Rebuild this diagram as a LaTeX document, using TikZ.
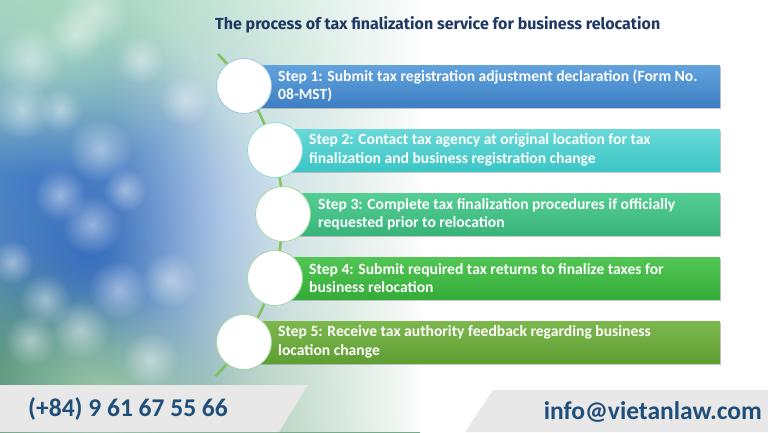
\documentclass[tikz,border=0pt]{standalone}
\usepackage{fontspec}
\setmainfont{Carlito}
\newfontfamily\titlefont{Fira Sans}
\usetikzlibrary{fadings,shadows}
\tikzfading[name=fuzzy, inner color=transparent!0, outer color=transparent!100]
\definecolor{navy}{HTML}{1F3864}
\definecolor{phoneblue}{HTML}{1F4E79}
\definecolor{linegreen}{HTML}{7FC25E}
\definecolor{bA1}{HTML}{62A3DE}\definecolor{bA2}{HTML}{3E7FC4}
\definecolor{bB1}{HTML}{6AD8D8}\definecolor{bB2}{HTML}{3CC6C6}
\definecolor{bC1}{HTML}{55CE94}\definecolor{bC2}{HTML}{38B47A}
\definecolor{bD1}{HTML}{52C655}\definecolor{bD2}{HTML}{34AC38}
\definecolor{bE1}{HTML}{7DB84E}\definecolor{bE2}{HTML}{5F9E33}
\definecolor{rA}{HTML}{9DC3E6}\definecolor{rB}{HTML}{8FDCDC}\definecolor{rC}{HTML}{A9D7A0}
\definecolor{footgray}{HTML}{E8E8E8}
\definecolor{bgtop}{HTML}{A9D6C4}\definecolor{bgmid}{HTML}{6F9CDA}\definecolor{bgbot}{HTML}{76AC8C}
\definecolor{blobA}{HTML}{A9C6EE}\definecolor{blobB}{HTML}{4F88D2}\definecolor{blobC}{HTML}{3A6FBE}
\definecolor{blobD}{HTML}{A8D8C0}\definecolor{blobE}{HTML}{5C9878}\definecolor{blobF}{HTML}{9CC9A8}
\tikzset{
  bar/.style={rectangle, inner sep=0pt, minimum height=42pt, anchor=west,
    drop shadow={shadow xshift=1pt, shadow yshift=-2pt, opacity=0.35, fill=black!60}},
  stepcircle/.style={circle, fill=white, minimum size=55pt, inner sep=0pt, line width=0.8pt},
  steptext/.style={anchor=west, align=left, text=white, font=\bfseries\fontsize{15.6}{18.5}\selectfont, inner sep=0pt},
  bokeh/.style={fill=white, path fading=fuzzy, opacity=0.45},
}
\begin{document}
\begin{tikzpicture}[x=1pt,y=-1pt]
\useasboundingbox (0,0) rectangle (768,432);
\fill[white] (0,0) rectangle (768,432);
% background picture
\shade[top color=bgtop, middle color=bgmid, bottom color=bgbot] (0,0) rectangle (420,432);
\fill[blobA, path fading=fuzzy] (200,210) circle (190);
\fill[blobB, path fading=fuzzy] (40,170) circle (190);
\fill[blobC, path fading=fuzzy] (90,250) circle (210);
\fill[blobD, path fading=fuzzy] (50,10) circle (170);
\fill[blobE, path fading=fuzzy] (0,400) circle (150);
\fill[blobF, path fading=fuzzy] (100,400) circle (110);
\foreach \bx/\by/\br in {30/60/34,75/35/28,95/12/34,22/110/30,100/150/32,92/225/30,60/195/26,118/290/30,45/300/26,125/190/22,185/100/26,80/330/30,30/340/26,170/280/28,12/262/22,140/60/24,60/110/22,150/360/28}
  \fill[bokeh] (\bx,\by) circle (\br);
\fill[white, path fading=west] (110,0) rectangle (430,432);
\fill[white] (420,0) rectangle (768,432);
% footer
\fill[footgray] (0,385) -- (308,385) -- (279,432) -- (0,432) -- cycle;
\fill[footgray] (493,390) -- (768,390) -- (768,432) -- (465,432) -- cycle;
\node[anchor=west, inner sep=0pt, text=phoneblue, font=\bfseries\fontsize{25.5}{28}\selectfont] (phone) at (28,409) {(+84) 9 61 67 55 66};
\node[anchor=east, inner sep=0pt, text=phoneblue, font=\bfseries\fontsize{25.5}{28}\selectfont] (mail) at (762,412) {info@vietanlaw.com};
% title
\node[anchor=west, inner sep=0pt, text=navy, font=\titlefont\bfseries\fontsize{16}{19}\selectfont] (title) at (215,25) {The process of tax finalization service for business relocation};
% connector arc
\coordinate (ltop) at (218,54);
\coordinate (lbot) at (216,377);
\draw[linegreen, line width=2.5pt] (ltop) arc[start angle=-44, end angle=45, radius=230];
% bars
\node[bar, top color=bA1, bottom color=bA2, minimum width=476pt] (b1) at (244,86) {};
\node[bar, top color=bB1, bottom color=bB2, minimum width=445pt] (b2) at (275,150) {};
\node[bar, top color=bC1, bottom color=bC2, minimum width=437pt] (b3) at (283,214) {};
\node[bar, top color=bD1, bottom color=bD2, minimum width=445pt] (b4) at (275,278) {};
\node[bar, top color=bE1, bottom color=bE2, minimum width=476pt] (b5) at (244,342) {};
% circles
\node[stepcircle, draw=rA] (c1) at (244,86) {};
\node[stepcircle, draw=rB] (c2) at (275,150) {};
\node[stepcircle, draw=rC] (c3) at (283,214) {};
\node[stepcircle, draw=rC] (c4) at (275,278) {};
\node[stepcircle, draw=rC] (c5) at (244,342) {};
% texts
\node[steptext] (t1) at (278,86) {Step 1: Submit tax registration adjustment declaration (Form No.\\08-MST)};
\node[steptext] (t2) at (309,150) {Step 2: Contact tax agency at original location for tax\\finalization and business registration change};
\node[steptext] (t3) at (318,214) {Step 3: Complete tax finalization procedures if officially\\requested prior to relocation};
\node[steptext] (t4) at (309,278) {Step 4: Submit required tax returns to finalize taxes for\\business relocation};
\node[steptext] (t5) at (278,342) {Step 5: Receive tax authority feedback regarding business\\location change};
\end{tikzpicture}
\end{document}
